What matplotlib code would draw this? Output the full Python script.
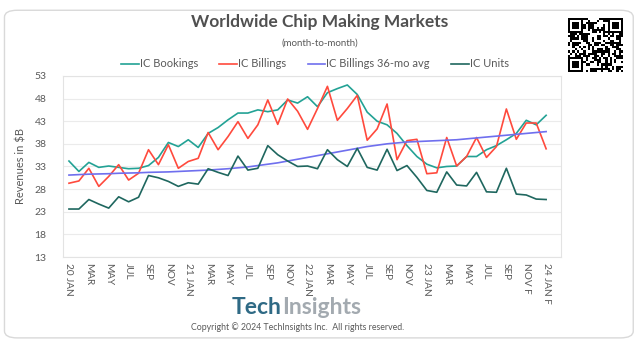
import matplotlib
matplotlib.use("Agg")
import matplotlib.pyplot as plt
from matplotlib.patches import FancyBboxPatch
import numpy as np

plt.rcParams['font.family'] = ['Lato', 'DejaVu Sans']

# monthly, Jan 2020 .. Jan 2024 (last two are forecasts)
ic_bookings = [34.2, 31.9, 33.9, 32.8, 33.1, 32.8, 32.5, 32.6, 33.2, 35.0,
               38.3, 37.4, 38.9, 37.2, 40.3, 41.6, 43.3, 44.8, 44.8, 45.5,
               45.1, 45.5, 47.7, 47.0, 48.4, 46.2, 49.3, 50.2, 51.0, 48.9,
               45.0, 43.0, 42.2, 40.3, 37.6, 35.2, 33.5, 32.7, 33.0, 33.1,
               35.2, 35.2, 36.7, 37.6, 38.9, 40.3, 43.2, 42.2, 44.3]
ic_billings = [29.3, 29.8, 32.6, 28.6, 30.8, 33.4, 30.0, 31.5, 36.7, 33.4,
               37.8, 32.6, 34.1, 34.8, 40.5, 36.7, 39.6, 42.9, 39.2, 42.2,
               47.7, 42.3, 47.9, 45.2, 41.2, 45.8, 50.7, 43.2, 45.8, 48.7,
               38.8, 41.3, 46.8, 34.5, 38.7, 39.0, 31.4, 31.6, 39.4, 33.1,
               35.2, 39.4, 35.0, 37.4, 45.7, 39.0, 42.6, 42.6, 36.9]
ic_billings_avg = [31.1, 31.2, 31.3, 31.35, 31.4, 31.5, 31.55, 31.6, 31.7, 31.75,
                   31.8, 31.9, 32.0, 32.1, 32.2, 32.35, 32.5, 32.7, 32.9, 33.2,
                   33.5, 33.8, 34.2, 34.6, 35.0, 35.4, 35.8, 36.2, 36.6, 37.0,
                   37.4, 37.7, 38.0, 38.2, 38.4, 38.5, 38.6, 38.7, 38.8, 38.9,
                   39.1, 39.3, 39.5, 39.7, 39.9, 40.1, 40.3, 40.5, 40.7]
ic_units = [23.6, 23.6, 25.7, 24.7, 23.8, 26.3, 25.2, 26.2, 31.0, 30.5,
            29.7, 28.6, 29.4, 29.1, 32.5, 31.7, 31.0, 35.3, 32.2, 32.6,
            37.6, 35.6, 34.2, 33.0, 33.1, 32.5, 36.7, 34.5, 33.0, 37.0,
            32.8, 32.2, 36.8, 32.1, 33.2, 30.6, 27.7, 27.3, 31.8, 28.9,
            28.7, 31.7, 27.4, 27.3, 32.6, 26.9, 26.7, 25.8, 25.7]
tick_labels = ['20 JAN', 'MAR', 'MAY', 'JUL', 'SEP', 'NOV',
               '21 JAN', 'MAR', 'MAY', 'JUL', 'SEP', 'NOV',
               '22 JAN', 'MAR', 'MAY', 'JUL', 'SEP', 'NOV',
               '23 JAN', 'MAR', 'MAY', 'JUL', 'SEP', 'NOV F', '24 JAN F']

grey = '#595959'
fig = plt.figure(figsize=(6.39, 3.42), dpi=100)

# rounded card behind everything
card = FancyBboxPatch((0.007, 0.012), 0.984, 0.958, boxstyle="round,pad=0,rounding_size=0.02",
                      transform=fig.transFigure, facecolor='white', edgecolor='#D9D9D9',
                      linewidth=1.0, zorder=-10)
fig.patches.append(card)

ax = fig.add_axes([0.0986, 0.2485, 0.7794, 0.5295])
ax.patch.set_alpha(0)
x = np.arange(len(ic_bookings))
ax.plot(x, ic_bookings, color='#23A295', lw=1.2, label='IC Bookings')
ax.plot(x, ic_billings, color='#FF4A3D', lw=1.2, label='IC Billings')
ax.plot(x, ic_billings_avg, color='#6F6FEE', lw=1.2, label='IC Billings 36-mo avg')
ax.plot(x, ic_units, color='#1F675F', lw=1.2, label='IC Units')

ax.set_xlim(-0.6, 49.5)
ax.set_ylim(13, 53)
ax.set_yticks(np.arange(13, 54, 5))
ax.set_xticks(x[::2])
ax.set_xticklabels(tick_labels, rotation=270, fontsize=7.2, color=grey)
ax.tick_params(axis='y', labelsize=7.5, labelcolor=grey, length=0, pad=12)
ax.tick_params(axis='x', length=0, pad=4)
ax.grid(axis='y', color='#EBEBEB', lw=0.8)
ax.set_axisbelow(True)
for s in ax.spines.values():
    s.set_color('#E3E3E3')
    s.set_linewidth(0.8)
ax.set_ylabel('Revenues in $B', fontsize=8, color=grey, labelpad=6)

fig.text(0.5, 0.935, 'Worldwide Chip Making Markets', ha='center', va='center',
         fontsize=12.5, fontweight='bold', color='#505050')
fig.text(0.5, 0.875, '(month-to-month)', ha='center', va='center', fontsize=7, color=grey)
fig.legend(loc='center', bbox_to_anchor=(0.493, 0.813), ncol=4, frameon=False,
           fontsize=8, handlelength=1.6, handletextpad=0.1, columnspacing=1.9,
           labelcolor=grey)

# logo: second word hangs off the right edge of the first
tech = fig.text(0.441, 0.10, 'Tech', ha='right', va='center', fontsize=16.5,
                fontweight='bold', color='#2F6A85')
ax.annotate('Insights', xy=(1, 0.5), xycoords=tech, ha='left', va='center',
            fontsize=16.5, fontweight='bold', color='#A3AAB0', annotation_clip=False)
fig.text(0.465, 0.045, 'Copyright \u00a9 2024 TechInsights Inc.  All rights reserved.',
         ha='center', va='center', fontsize=6.3, color=grey)

# QR-style badge, top right
n = 25
rng = np.random.default_rng(7)
qr = rng.random((n, n)) > 0.5
for r0, c0 in [(0, 0), (0, n - 7), (n - 7, 0)]:
    qr[r0:r0 + 7, c0:c0 + 7] = True
    qr[r0 + 1:r0 + 6, c0 + 1:c0 + 6] = False
    qr[r0 + 2:r0 + 5, c0 + 2:c0 + 5] = True
qax = fig.add_axes([568 / 639, 1 - 72 / 342, 55 / 639, 54 / 342])
qax.imshow(~qr, cmap='gray', interpolation='nearest', aspect='auto')
qax.axis('off')

fig.savefig('out.png', dpi=100)
